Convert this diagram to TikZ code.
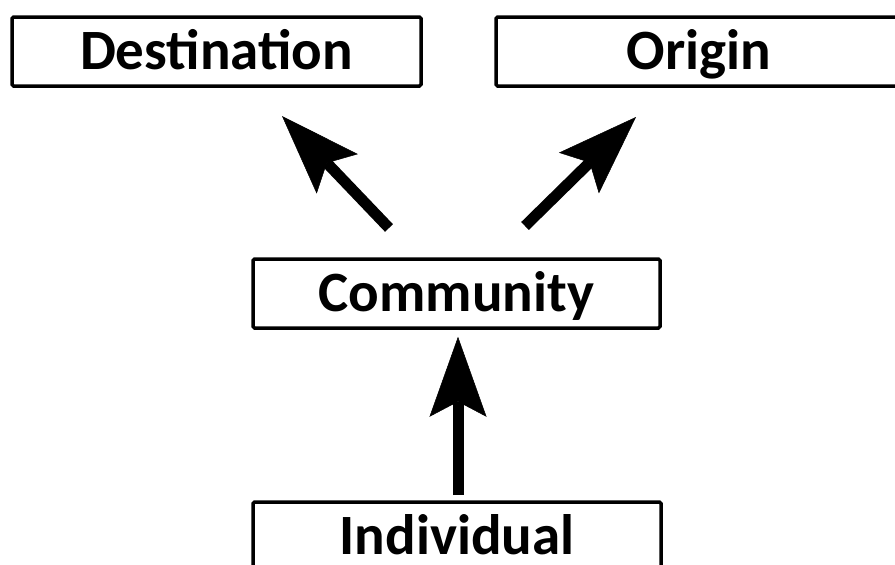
\documentclass[tikz,border=0pt]{standalone}
\usepackage{fontspec}
\setmainfont{Carlito}
\usetikzlibrary{arrows.meta}

\tikzset{
  label/.style={font=\fontsize{57}{62}\selectfont\bfseries, inner sep=0pt},
  level/.style={label, draw=black, line width=3.5pt, rounded corners=1.5pt,
    minimum height=69pt, text height=36pt, text depth=0pt},
  frame/.style={draw=black, line width=3.5pt, rounded corners=1.5pt},
  flow/.style={line width=11pt,
    -{Stealth[length=80pt, width=57pt, inset=15pt, line width=0.5pt]}}
}

\begin{document}
\begin{tikzpicture}[x=1pt, y=-1pt]
  \useasboundingbox (0,0) rectangle (895,565);
  \clip (0,0) rectangle (895,565);

  % the upper three levels
  \node[level, minimum width=409pt] (dest) at (216.5,51.5) {Destination};
  \node[level, minimum width=406pt] (orig) at (699,51.5) {Origin};
  \node[level, minimum width=407pt] (comm) at (456.5,293.5) {Community};

  % the bottom level runs off the lower edge: open frame plus its label
  \coordinate (indivtop) at (458,502);
  \draw[frame] (253,580) |- (661,502) -- (661,580);
  \node[label, anchor=base] (indiv) at (457,554.5) {Individual};

  % free ends of the two upward diagonal arrows
  \coordinate (cl) at (389,228);
  \coordinate (dl) at (282,116);
  \coordinate (cr) at (525,226);
  \coordinate (or) at (636,117);

  % connectors
  \draw[flow] (cl) -- (dl);
  \draw[flow] (cr) -- (or);
  \draw[flow, shorten <=7pt, shorten >=7pt]
    (indivtop) -- (indivtop |- comm.south);
\end{tikzpicture}
\end{document}
